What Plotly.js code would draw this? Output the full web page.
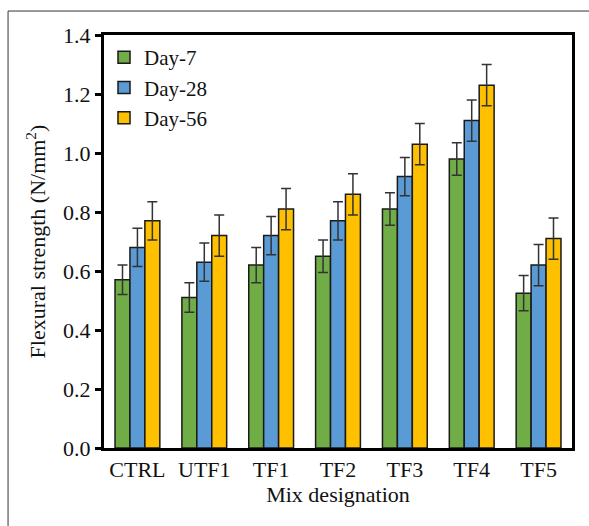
<!DOCTYPE html>
<html>
<head>
<meta charset="utf-8">
<script src="https://cdn.plot.ly/plotly-3.0.1.min.js"></script>
<style>
  html, body { margin: 0; padding: 0; background: #fff; }
  #chart { width: 589px; height: 526px; }
</style>
</head>
<body>
<div id="chart"></div>
<script>
// Mix designations on the x axis
const mixes = ['CTRL', 'UTF1', 'TF1', 'TF2', 'TF3', 'TF4', 'TF5'];

// Flexural strength (N/mm²) at each curing age
const day7  = [0.57, 0.51, 0.62, 0.65, 0.81, 0.98, 0.525];
const day28 = [0.68, 0.63, 0.72, 0.77, 0.92, 1.11, 0.62];
const day56 = [0.77, 0.72, 0.81, 0.86, 1.03, 1.23, 0.71];

// Error bar half-lengths
const err7  = [0.05, 0.05, 0.06, 0.055, 0.055, 0.055, 0.06];
const err28 = [0.065, 0.065, 0.065, 0.065, 0.065, 0.07, 0.07];
const err56 = [0.065, 0.07, 0.07, 0.07, 0.07, 0.07, 0.07];

const seriesNames = ['Day-7', 'Day-28', 'Day-56'];
const seriesColors = ['#70AD47', '#5B9BD5', '#FFC000'];

const serif = '"Liberation Serif", "Times New Roman", serif';

function barTrace(name, values, errors, color) {
  return {
    type: 'bar',
    name: name,
    x: mixes,
    y: values,
    marker: { color: color, line: { color: '#1a1a1a', width: 1.5 } },
    error_y: { type: 'data', array: errors, visible: true, color: '#333', thickness: 1.5, width: 5 }
  };
}

const data = [
  barTrace(seriesNames[0], day7, err7, seriesColors[0]),
  barTrace(seriesNames[1], day28, err28, seriesColors[1]),
  barTrace(seriesNames[2], day56, err56, seriesColors[2])
];

const layout = {
  width: 589,
  height: 526,
  margin: { l: 104, r: 17, t: 35, b: 78 },
  paper_bgcolor: '#fff',
  plot_bgcolor: '#fff',
  font: { family: serif, color: '#111', size: 22 },
  barmode: 'group',
  bargap: 0.33,
  bargroupgap: 0,
  showlegend: true,
  legend: {
    x: 0.0, y: 0.995, xanchor: 'left', yanchor: 'top',
    bgcolor: 'rgba(0,0,0,0)',
    font: { family: serif, size: 21, color: '#111' },
    tracegroupgap: 0,
    itemwidth: 30
  },
  xaxis: {
    showline: true, linecolor: '#000', linewidth: 3, mirror: true,
    ticks: '', showgrid: false, zeroline: false,
    tickfont: { family: serif, size: 22, color: '#111' },
    title: { text: 'Mix designation', font: { family: serif, size: 22, color: '#111' }, standoff: 6 }
  },
  yaxis: {
    range: [0, 1.4],
    dtick: 0.2,
    tickformat: '.1f',
    showline: true, linecolor: '#000', linewidth: 3, mirror: true,
    ticks: 'outside', ticklen: 6, tickwidth: 3, tickcolor: '#000',
    showgrid: false, zeroline: false,
    tickfont: { family: serif, size: 22, color: '#111' },
    title: { text: 'Flexural strength (N/mm<sup>2</sup>)', font: { family: serif, size: 22, color: '#111' }, standoff: 12 }
  },
  shapes: [{
    type: 'rect', xref: 'paper', yref: 'paper',
    x0: -0.205, x1: 1.2, y0: -0.4, y1: 1.058,
    line: { color: '#333', width: 1 }, fillcolor: 'rgba(0,0,0,0)', layer: 'below'
  }]
};

Plotly.newPlot('chart', data, layout, { displayModeBar: false, staticPlot: true });
</script>
</body>
</html>
